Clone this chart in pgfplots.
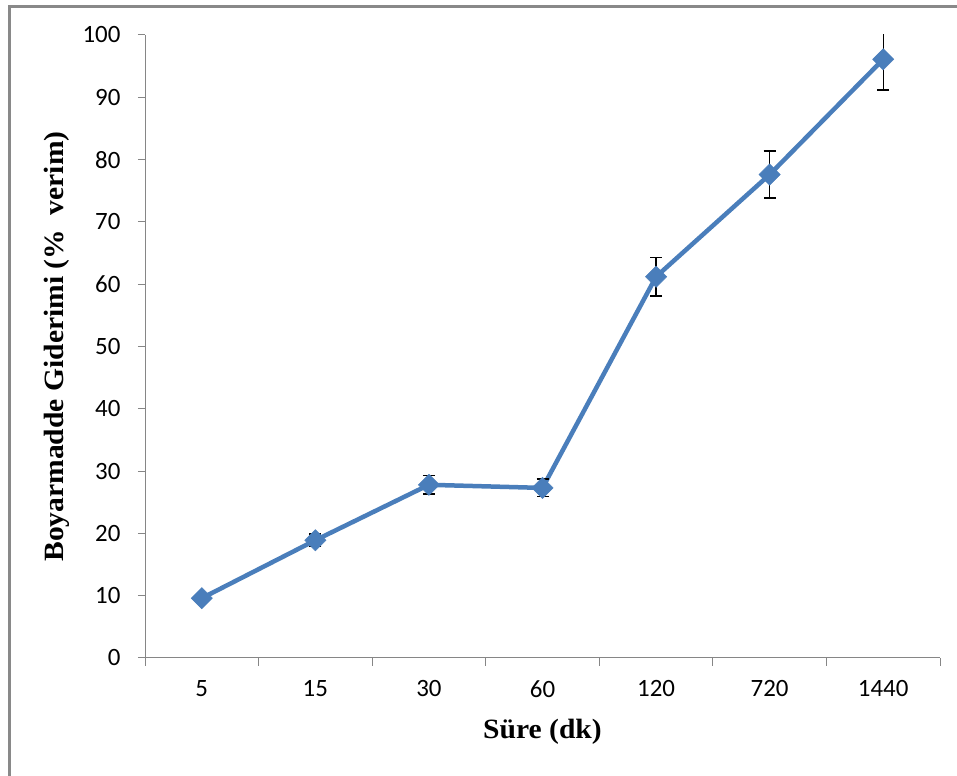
\documentclass[border=0pt]{standalone}
\usepackage{fontspec}
\setmainfont{Liberation Serif}
\newfontfamily\labelfont[FakeStretch=1.06]{Liberation Serif}
\newfontfamily\tickfont{Carlito}
\usepackage{pgfplots}
\pgfplotsset{compat=1.18}
\definecolor{lineblue}{HTML}{4A7EBB}
\definecolor{axgray}{HTML}{868686}
\definecolor{framegray}{HTML}{898989}
\begin{document}
\begin{tikzpicture}
\useasboundingbox (0,0) rectangle (957bp,776bp);
\fill[white] (0,0) rectangle (957bp,776bp);
\draw[framegray, line width=3bp] (9bp,-2bp) -- (9bp,769bp) -- (960bp,769bp);
\begin{axis}[
  at={(145bp,118bp)}, anchor=south west,
  scale only axis, width=795bp, height=623bp,
  xmin=-0.5, xmax=6.5, ymin=0, ymax=100,
  axis x line=bottom, axis y line=left,
  axis line style={axgray, line width=1bp, -},
  xtick={0,...,6}, xticklabels={5,15,30,60,120,720,1440},
  major x tick style={draw=none},
  minor xtick={-0.5,0.5,...,6.5},
  minor tick length=8bp,
  minor x tick style={axgray, line width=1bp},
  ytick={0,10,...,100},
  tick align=outside,
  major tick length=7bp,
  major y tick style={axgray, line width=1bp},
  /pgf/number format/assume math mode=true,
  tick label style={font=\tickfont\fontsize{25}{30}\selectfont, black},
  xticklabel style={yshift=-12bp},
  yticklabel style={xshift=-14bp},
  label style={font=\labelfont\bfseries\fontsize{28}{32}\selectfont},
  xlabel={Süre (dk)},
  ylabel={Boyarmadde Giderimi (\%\ \ verim)},
  xlabel style={at={(axis description cs:0.5,-0.1188)}, anchor=center},
  ylabel style={at={(axis description cs:-0.1107,0.5)}, anchor=center},
]
\addplot[lineblue, line width=4.5bp, mark=square*, mark size=7.5bp,
  mark options={rotate=45, fill=lineblue, draw=lineblue, line width=0.5bp},
  error bars/.cd, y dir=both, y explicit,
  error bar style={black, line width=1.2bp},
  error mark options={black, line width=1.5bp, mark size=6bp, rotate=90}]
coordinates {
  (0,9.6) +- (0,0.4)
  (1,18.9) +- (0,1.0)
  (2,27.8) +- (0,1.5)
  (3,27.3) +- (0,1.4)
  (4,61.2) +- (0,3.1)
  (5,77.6) +- (0,3.8)
  (6,96.1) +- (0,4.9)
};
\end{axis}
\end{tikzpicture}
\end{document}
